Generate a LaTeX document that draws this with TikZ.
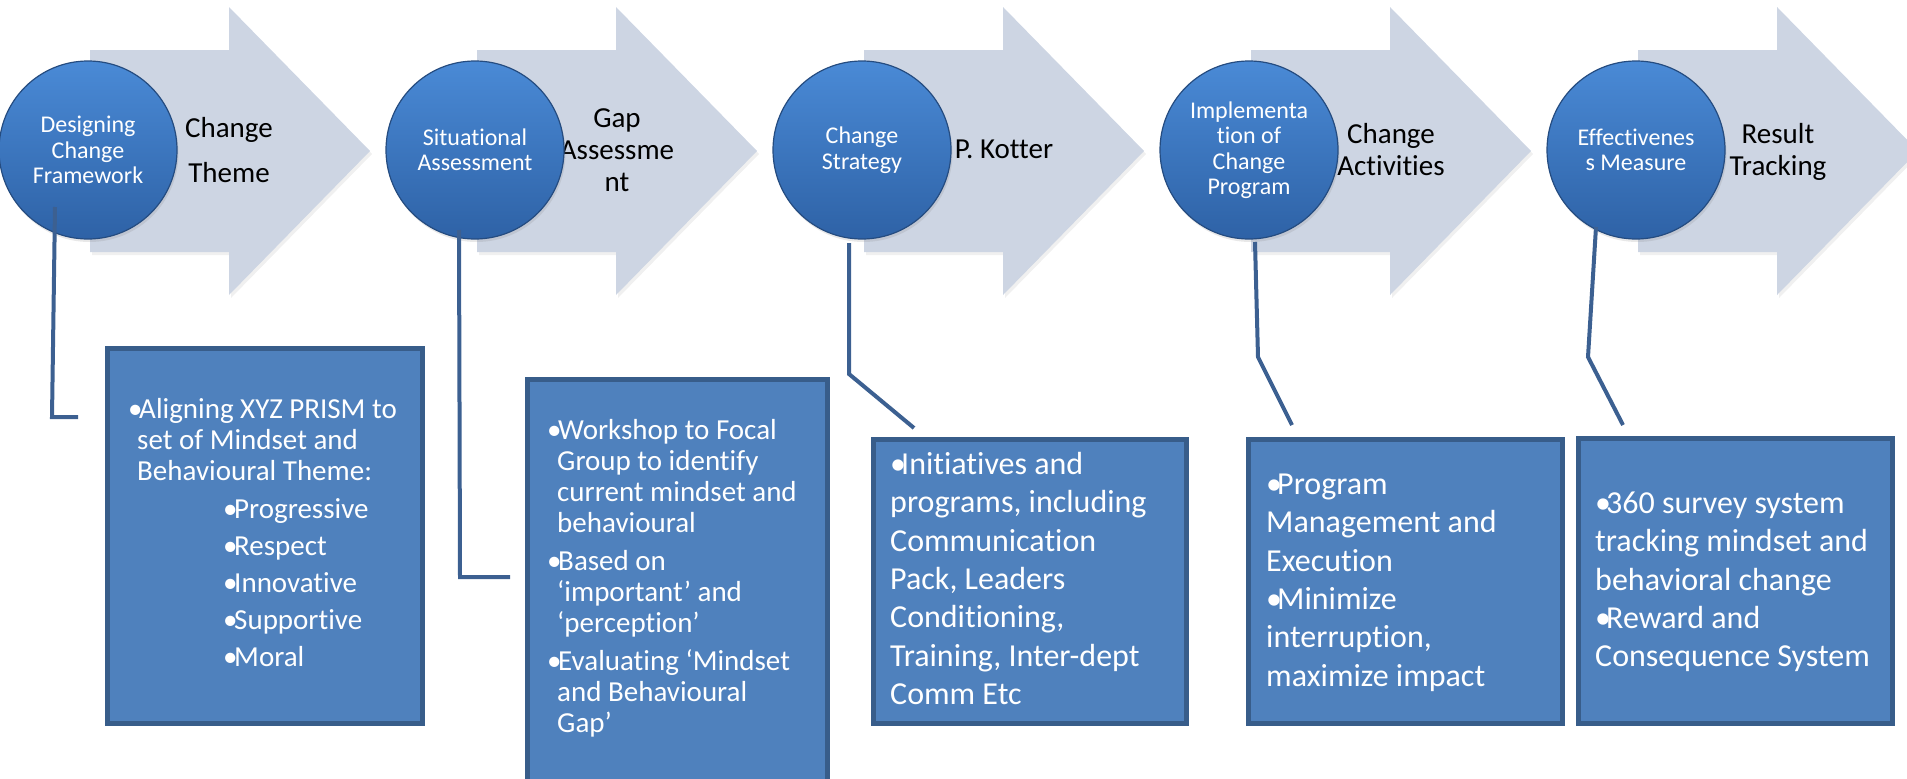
\documentclass[tikz,border=0pt]{standalone}
\usepackage{fontspec}
\setmainfont{Carlito}[Ligatures=NoCommon]
\usetikzlibrary{shadows}
\definecolor{arrowfill}{RGB}{205,213,227}
\definecolor{ballTop}{RGB}{74,138,214}
\definecolor{ballBot}{RGB}{46,98,166}
\definecolor{ballEdge}{RGB}{37,76,128}
\definecolor{boxFill}{RGB}{79,129,189}
\definecolor{boxEdge}{RGB}{56,93,138}
\definecolor{linkCol}{RGB}{60,96,145}
% bullets with a hanging gap
\newcommand\bulA{\makebox[11pt][l]{•}}
\newcommand\bulB{\makebox[11pt][l]{•}}
\begin{document}
\begin{tikzpicture}[x=1pt,y=-1pt,
  ball/.style={circle, minimum size=178pt, inner sep=0pt, top color=ballTop,
    bottom color=ballBot, draw=ballEdge, line width=1.2pt, text=white,
    align=center, font=\fontsize{24}{25.5}\selectfont,
    drop shadow={opacity=0.18, shadow xshift=1.5pt, shadow yshift=-3pt}},
  steplabel/.style={anchor=north, inner sep=0pt, align=center,
    font=\fontsize{29}{32}\selectfont, text=black},
  infobox/.style={rectangle, fill=boxFill, draw=boxEdge, line width=4.5pt,
    inner sep=0pt, anchor=north west},
  smalltext/.style={anchor=north west, inner sep=0pt, align=left, text=white,
    font=\fontsize{29}{31}\selectfont},
  bigtext/.style={anchor=north west, inner sep=0pt, align=left, text=white,
    font=\fontsize{32}{38.4}\selectfont},
  link/.style={draw=linkCol, line width=4pt}
]
\useasboundingbox (0,0) rectangle (1907,779);
\clip (0,0) rectangle (1907,779);

% block arrows behind the step circles
\foreach \cx in {88,475,862,1249,1636}{
  \fill[arrowfill, drop shadow={opacity=0.12, shadow xshift=2pt, shadow yshift=-3pt}]
    ({\cx+2},50) -- ({\cx+141},50) -- ({\cx+141},7) -- ({\cx+282},151)
    -- ({\cx+141},295) -- ({\cx+141},252) -- ({\cx+2},252) -- cycle;
}

% arrow captions
\node[steplabel] (l1) at (229,113) {\rule{0pt}{24pt}Change\\[13pt]Theme};
\node[steplabel] (l2) at (617,103) {\rule{0pt}{24pt}Gap\\Assessme\\nt};
\node[steplabel] (l3) at (1004,134) {\rule{0pt}{24pt}P. Kotter};
\node[steplabel] (l4) at (1391,119) {\rule{0pt}{24pt}Change\\Activities};
\node[steplabel] (l5) at (1778,119) {\rule{0pt}{24pt}Result\\Tracking};

% step circles
\node[ball] (c1) at (88,150) {Designing\\Change\\Framework};
\node[ball] (c2) at (475,150) {Situational\\Assessment};
\node[ball] (c3) at (862,150) {Change\\Strategy};
\node[ball] (c4) at (1249,150) {Implementa\\tion of\\Change\\Program};
\node[ball] (c5) at (1636,150) {Effectivenes\\s Measure};

% detail boxes
\node[infobox, minimum width=315pt, minimum height=375pt] (b1) at (105,346) {};
\node[infobox, minimum width=300pt, minimum height=430pt] (b2) at (525,377) {};
\node[infobox, minimum width=313pt, minimum height=284pt] (b3) at (871,437) {};
\node[infobox, minimum width=314pt, minimum height=284pt] (b4) at (1246,437) {};
\node[infobox, minimum width=314pt, minimum height=285pt] (b5) at (1576,436) {};

% box texts
\node[smalltext] (t1) at (128,392) {\rule{0pt}{26pt}\bulA Aligning XYZ PRISM to\\
  \hspace*{9pt}set of Mindset and\\
  \hspace*{9pt}Behavioural Theme:\\[7pt]
  \hspace*{95pt}\bulA Progressive\\[6pt]
  \hspace*{95pt}\bulA Respect\\[6pt]
  \hspace*{95pt}\bulA Innovative\\[6pt]
  \hspace*{95pt}\bulA Supportive\\[6pt]
  \hspace*{95pt}\bulA Moral};
\node[smalltext] (t2) at (547,413) {\rule{0pt}{26pt}\bulA Workshop to Focal\\
  \hspace*{10pt}Group to identify\\
  \hspace*{10pt}current mindset and\\
  \hspace*{10pt}behavioural\\[7pt]
  \bulA Based on\\
  \hspace*{10pt}‘important’ and\\
  \hspace*{10pt}‘perception’\\[7pt]
  \bulA Evaluating ‘Mindset\\
  \hspace*{10pt}and Behavioural\\
  \hspace*{10pt}Gap’};
\node[bigtext] (t3) at (890,446) {\rule{0pt}{28pt}\bulB Initiatives and\\
  programs, including\\
  Communication\\
  Pack, Leaders\\
  Conditioning,\\
  Training, Inter-dept\\
  Comm Etc};
\node[bigtext] (t4) at (1266,466) {\rule{0pt}{28pt}\bulB Program\\
  Management and\\
  Execution\\
  \bulB Minimize\\
  interruption,\\
  maximize impact};
\node[bigtext] (t5) at (1595,485) {\rule{0pt}{28pt}\bulB 360 survey system\\
  tracking mindset and\\
  behavioral change\\
  \bulB Reward and\\
  Consequence System};

% connector end points
\coordinate (k1a) at (55,207);  \coordinate (k1b) at (52,417);  \coordinate (k1c) at (78,417);
\coordinate (k2a) at (459,230); \coordinate (k2b) at (460,577); \coordinate (k2c) at (510,577);
\coordinate (k3a) at (849,243); \coordinate (k3b) at (849,374); \coordinate (k3c) at (914,428);
\coordinate (k4a) at (1255,242); \coordinate (k4b) at (1258,357); \coordinate (k4c) at (1292,425);
\coordinate (k5a) at (1596,227); \coordinate (k5b) at (1588,357); \coordinate (k5c) at (1623,425);

% connectors from circles toward their boxes
\draw[link] (k1a) -- (k1b) -- (k1c);
\draw[link] (k2a) -- (k2b) -- (k2c);
\draw[link] (k3a) -- (k3b) -- (k3c);
\draw[link] (k4a) -- (k4b) -- (k4c);
\draw[link] (k5a) -- (k5b) -- (k5c);
\end{tikzpicture}
\end{document}
